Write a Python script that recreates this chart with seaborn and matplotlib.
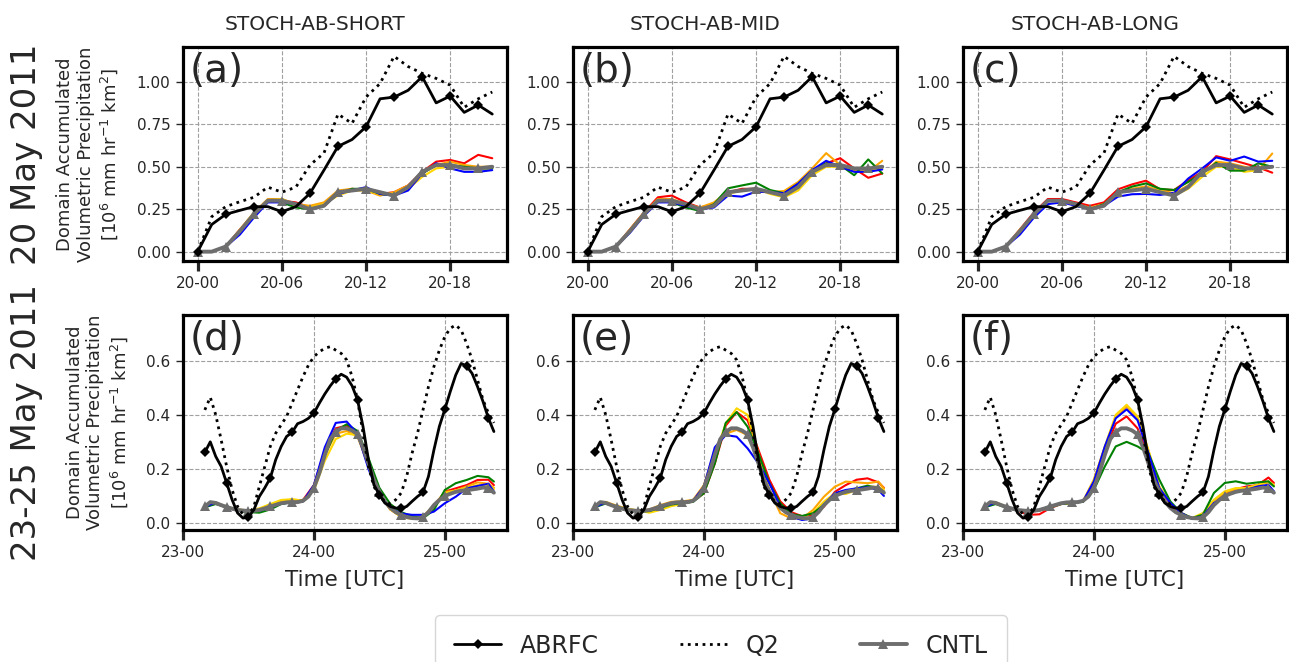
import numpy as np
import pandas as pd
import matplotlib
matplotlib.use("Agg")
import matplotlib.pyplot as plt
import seaborn as sns

sns.set_style("ticks")
plt.rcParams["font.family"] = ["DejaVu Sans"]

# ---------------- Data: 20 May 2011 (hours since 20-00) ----------------
hours_top = list(range(0, 22))
abrfc_top = [0.0, 0.16, 0.22, 0.243, 0.265, 0.265, 0.235, 0.265, 0.343, 0.48, 0.62,
             0.66, 0.735, 0.90, 0.91, 0.95, 1.03, 0.876, 0.916, 0.82, 0.863, 0.81]
q2_top = [0.0, 0.206, 0.265, 0.294, 0.32, 0.38, 0.35, 0.38, 0.51, 0.58, 0.81,
          0.755, 0.91, 0.99, 1.15, 1.09, 1.05, 1.02, 0.98, 0.85, 0.90, 0.94]
cntl_top = [0.00, 0.00, 0.03, 0.12, 0.22, 0.30, 0.30, 0.28, 0.25, 0.27, 0.35,
            0.36, 0.37, 0.35, 0.33, 0.38, 0.47, 0.51, 0.51, 0.49, 0.49, 0.50]

short_red = [0.00, 0.00, 0.03, 0.13, 0.22, 0.30, 0.30, 0.29, 0.26, 0.28, 0.35, 0.37, 0.36, 0.34, 0.35, 0.39, 0.47, 0.53, 0.54, 0.52, 0.57, 0.55]
short_orange = [0.00, 0.00, 0.03, 0.13, 0.23, 0.31, 0.31, 0.28, 0.27, 0.29, 0.36, 0.37, 0.36, 0.33, 0.35, 0.39, 0.46, 0.51, 0.53, 0.51, 0.50, 0.50]
short_yellow = [0.00, 0.00, 0.03, 0.12, 0.21, 0.30, 0.31, 0.27, 0.26, 0.28, 0.33, 0.36, 0.36, 0.34, 0.34, 0.37, 0.44, 0.49, 0.50, 0.50, 0.49, 0.49]
short_green = [0.00, 0.00, 0.03, 0.12, 0.22, 0.30, 0.29, 0.26, 0.25, 0.27, 0.34, 0.37, 0.37, 0.34, 0.33, 0.38, 0.46, 0.51, 0.51, 0.50, 0.49, 0.49]
short_blue = [0.00, 0.00, 0.03, 0.10, 0.20, 0.29, 0.29, 0.28, 0.25, 0.27, 0.34, 0.36, 0.38, 0.34, 0.33, 0.36, 0.46, 0.52, 0.49, 0.47, 0.47, 0.48]

mid_red = [0.00, 0.00, 0.03, 0.13, 0.23, 0.32, 0.33, 0.29, 0.26, 0.28, 0.35, 0.37, 0.37, 0.35, 0.34, 0.40, 0.48, 0.52, 0.55, 0.49, 0.435, 0.46]
mid_orange = [0.00, 0.00, 0.03, 0.13, 0.23, 0.31, 0.31, 0.28, 0.26, 0.29, 0.355, 0.36, 0.37, 0.35, 0.357, 0.41, 0.49, 0.58, 0.51, 0.48, 0.47, 0.535]
mid_yellow = [0.00, 0.00, 0.03, 0.12, 0.22, 0.30, 0.30, 0.27, 0.25, 0.27, 0.34, 0.36, 0.37, 0.34, 0.32, 0.36, 0.45, 0.50, 0.50, 0.49, 0.48, 0.49]
mid_green = [0.00, 0.00, 0.03, 0.12, 0.22, 0.30, 0.29, 0.26, 0.24, 0.28, 0.373, 0.39, 0.406, 0.363, 0.344, 0.40, 0.477, 0.52, 0.51, 0.45, 0.543, 0.46]
mid_blue = [0.00, 0.00, 0.03, 0.11, 0.21, 0.29, 0.29, 0.27, 0.25, 0.26, 0.33, 0.324, 0.353, 0.35, 0.344, 0.40, 0.48, 0.535, 0.50, 0.47, 0.47, 0.484]

long_red = [0.00, 0.00, 0.03, 0.13, 0.23, 0.31, 0.31, 0.29, 0.27, 0.29, 0.367, 0.396, 0.418, 0.367, 0.363, 0.42, 0.47, 0.5625, 0.543, 0.52, 0.496, 0.465]
long_orange = [0.00, 0.00, 0.03, 0.13, 0.22, 0.30, 0.30, 0.28, 0.26, 0.28, 0.35, 0.37, 0.385, 0.36, 0.345, 0.39, 0.455, 0.53, 0.52, 0.50, 0.48, 0.578]
long_yellow = [0.00, 0.00, 0.03, 0.12, 0.21, 0.30, 0.30, 0.27, 0.25, 0.27, 0.35, 0.36, 0.37, 0.36, 0.33, 0.37, 0.44, 0.50, 0.50, 0.47, 0.48, 0.50]
long_green = [0.00, 0.00, 0.03, 0.12, 0.22, 0.30, 0.30, 0.27, 0.25, 0.28, 0.35, 0.383, 0.402, 0.37, 0.363, 0.41, 0.46, 0.523, 0.477, 0.477, 0.52, 0.50]
long_blue = [0.00, 0.00, 0.03, 0.10, 0.20, 0.28, 0.29, 0.27, 0.25, 0.27, 0.324, 0.338, 0.34, 0.334, 0.346, 0.43, 0.49, 0.555, 0.535, 0.56, 0.53, 0.535]

# ---------------- Data: 23-25 May 2011 (hours since 23-00) ----------------
hours_bot = list(range(4, 58))
abrfc_bot = [0.261, 0.30, 0.246, 0.209, 0.148, 0.086, 0.037, 0.018, 0.022, 0.049, 0.098, 0.13,
             0.166, 0.234, 0.283, 0.32, 0.335, 0.367, 0.375, 0.387, 0.406, 0.443, 0.477, 0.507,
             0.533, 0.55, 0.539, 0.507, 0.455, 0.357, 0.234, 0.141, 0.105, 0.074, 0.061, 0.055,
             0.055, 0.061, 0.08, 0.098, 0.113, 0.172, 0.27, 0.357, 0.42, 0.486, 0.547, 0.59,
             0.58, 0.553, 0.504, 0.449, 0.387, 0.338]
q2_bot = [0.418, 0.465, 0.40, 0.307, 0.209, 0.123, 0.061, 0.031, 0.027, 0.061, 0.135, 0.209,
          0.283, 0.332, 0.363, 0.394, 0.443, 0.492, 0.541, 0.584, 0.615, 0.633, 0.646, 0.652,
          0.639, 0.627, 0.603, 0.541, 0.455, 0.332, 0.209, 0.135, 0.098, 0.08, 0.071, 0.086,
          0.111, 0.172, 0.258, 0.332, 0.418, 0.504, 0.578, 0.639, 0.689, 0.72, 0.732, 0.713,
          0.664, 0.603, 0.529, 0.455, 0.406, 0.37]
cntl_bot = [0.061, 0.077, 0.074, 0.066, 0.059, 0.053, 0.048, 0.046, 0.044, 0.045, 0.048, 0.054,
            0.061, 0.067, 0.073, 0.076, 0.077, 0.077, 0.082, 0.098, 0.13, 0.185, 0.252, 0.31,
            0.337, 0.35, 0.35, 0.342, 0.328, 0.28, 0.22, 0.16, 0.115, 0.08, 0.056, 0.04,
            0.03, 0.022, 0.018, 0.017, 0.021, 0.04, 0.066, 0.085, 0.10, 0.108, 0.115, 0.119,
            0.121, 0.124, 0.127, 0.131, 0.128, 0.112]

hours_mem = [4, 6, 8, 10, 12, 14, 16, 18, 20, 22, 24, 26, 28, 30, 32, 34, 36, 38, 40, 42, 44, 46, 48, 50, 52, 54, 56, 57]
d_red = [0.060, 0.072, 0.057, 0.046, 0.043, 0.047, 0.062, 0.075, 0.080, 0.085, 0.14, 0.27, 0.35, 0.36, 0.33, 0.21, 0.11, 0.05, 0.025, 0.018, 0.022, 0.06, 0.116, 0.128, 0.14, 0.159, 0.16, 0.14]
d_orange = [0.060, 0.076, 0.060, 0.050, 0.045, 0.052, 0.068, 0.082, 0.086, 0.084, 0.13, 0.25, 0.33, 0.34, 0.32, 0.21, 0.11, 0.05, 0.025, 0.018, 0.024, 0.065, 0.115, 0.12, 0.135, 0.15, 0.145, 0.13]
d_yellow = [0.060, 0.074, 0.058, 0.050, 0.046, 0.054, 0.070, 0.085, 0.088, 0.082, 0.12, 0.23, 0.31, 0.33, 0.325, 0.22, 0.11, 0.05, 0.022, 0.015, 0.020, 0.06, 0.11, 0.12, 0.13, 0.14, 0.14, 0.125]
d_green = [0.058, 0.070, 0.058, 0.046, 0.040, 0.038, 0.050, 0.070, 0.077, 0.080, 0.13, 0.25, 0.34, 0.365, 0.34, 0.24, 0.13, 0.07, 0.04, 0.025, 0.017, 0.048, 0.122, 0.147, 0.159, 0.174, 0.169, 0.153]
d_blue = [0.060, 0.075, 0.058, 0.046, 0.043, 0.045, 0.058, 0.072, 0.076, 0.080, 0.14, 0.28, 0.37, 0.375, 0.33, 0.20, 0.10, 0.055, 0.035, 0.030, 0.030, 0.042, 0.073, 0.097, 0.128, 0.137, 0.145, 0.116]

e_red = [0.060, 0.074, 0.058, 0.046, 0.044, 0.046, 0.060, 0.072, 0.075, 0.080, 0.11, 0.22, 0.36, 0.41, 0.38, 0.27, 0.16, 0.08, 0.04, 0.025, 0.03, 0.06, 0.115, 0.14, 0.16, 0.165, 0.15, 0.13]
e_orange = [0.062, 0.078, 0.064, 0.052, 0.046, 0.050, 0.066, 0.078, 0.080, 0.085, 0.14, 0.27, 0.33, 0.344, 0.325, 0.233, 0.122, 0.036, 0.017, 0.017, 0.048, 0.097, 0.134, 0.153, 0.15, 0.147, 0.153, 0.128]
e_yellow = [0.060, 0.076, 0.062, 0.052, 0.046, 0.038, 0.048, 0.062, 0.070, 0.080, 0.12, 0.25, 0.368, 0.424, 0.40, 0.257, 0.122, 0.054, 0.03, 0.023, 0.038, 0.079, 0.11, 0.107, 0.122, 0.134, 0.134, 0.122]
e_green = [0.058, 0.072, 0.058, 0.046, 0.042, 0.044, 0.056, 0.068, 0.074, 0.078, 0.11, 0.22, 0.37, 0.41, 0.356, 0.257, 0.147, 0.073, 0.033, 0.026, 0.036, 0.067, 0.10, 0.116, 0.128, 0.138, 0.128, 0.116]
e_blue = [0.060, 0.075, 0.060, 0.048, 0.043, 0.046, 0.060, 0.072, 0.076, 0.082, 0.135, 0.28, 0.325, 0.319, 0.276, 0.22, 0.147, 0.06, 0.023, 0.011, 0.017, 0.067, 0.11, 0.122, 0.128, 0.132, 0.122, 0.10]

f_red = [0.060, 0.074, 0.058, 0.046, 0.030, 0.032, 0.055, 0.070, 0.075, 0.080, 0.15, 0.27, 0.367, 0.394, 0.35, 0.246, 0.129, 0.07, 0.035, 0.018, 0.025, 0.07, 0.11, 0.125, 0.135, 0.14, 0.168, 0.148]
f_orange = [0.062, 0.076, 0.060, 0.048, 0.043, 0.048, 0.060, 0.070, 0.073, 0.080, 0.16, 0.28, 0.39, 0.43, 0.39, 0.265, 0.132, 0.072, 0.035, 0.017, 0.035, 0.082, 0.112, 0.125, 0.13, 0.14, 0.15, 0.138]
f_yellow = [0.060, 0.076, 0.060, 0.048, 0.043, 0.048, 0.062, 0.072, 0.075, 0.080, 0.16, 0.283, 0.40, 0.437, 0.394, 0.27, 0.135, 0.074, 0.037, 0.018, 0.037, 0.086, 0.117, 0.129, 0.129, 0.141, 0.154, 0.141]
f_green = [0.058, 0.070, 0.056, 0.046, 0.042, 0.046, 0.058, 0.070, 0.074, 0.078, 0.123, 0.209, 0.283, 0.30, 0.283, 0.258, 0.16, 0.08, 0.037, 0.018, 0.031, 0.111, 0.148, 0.154, 0.145, 0.15, 0.154, 0.135]
f_blue = [0.060, 0.075, 0.058, 0.046, 0.043, 0.048, 0.062, 0.072, 0.076, 0.080, 0.154, 0.283, 0.387, 0.42, 0.38, 0.258, 0.129, 0.074, 0.037, 0.015, 0.025, 0.074, 0.098, 0.117, 0.123, 0.135, 0.141, 0.117]

titles = ["STOCH-AB-SHORT", "STOCH-AB-MID", "STOCH-AB-LONG"]
row_labels = ["20 May 2011", "23-25 May 2011"]
letters = ["(a)", "(b)", "(c)", "(d)", "(e)", "(f)"]
top_ticks = [0, 6, 12, 18]
top_ticklabels = ["20-00", "20-06", "20-12", "20-18"]
bot_ticks = [0, 24, 48]
bot_ticklabels = ["23-00", "24-00", "25-00"]
top_yticks = [0.0, 0.25, 0.5, 0.75, 1.0]
bot_yticks = [0.0, 0.2, 0.4, 0.6]

member_colors = ["red", "orange", "gold", "green", "blue"]
members_top = [
    [short_red, short_orange, short_yellow, short_green, short_blue],
    [mid_red, mid_orange, mid_yellow, mid_green, mid_blue],
    [long_red, long_orange, long_yellow, long_green, long_blue],
]
members_bot = [
    [d_red, d_orange, d_yellow, d_green, d_blue],
    [e_red, e_orange, e_yellow, e_green, e_blue],
    [f_red, f_orange, f_yellow, f_green, f_blue],
]

# ---------------- Figure ----------------
W, H = 1289, 662
fig = plt.figure(figsize=(W / 100, H / 100), dpi=100)

lefts = [183, 573, 963]
axw = 324
rows = [(47, 261), (315, 530)]


def add_ax(left, top, bottom):
    return fig.add_axes([left / W, 1 - bottom / H, axw / W, (bottom - top) / H])


def style_ax(ax):
    for sp in ax.spines.values():
        sp.set_linewidth(2.3)
        sp.set_color("black")
        sp.set_visible(True)
    ax.grid(True, linestyle="--", color="#a0a0a0", linewidth=0.8)
    ax.set_axisbelow(True)
    ax.tick_params(axis="x", length=7, width=2.3, labelsize=11, pad=4)
    ax.tick_params(axis="y", length=5, width=1.0, labelsize=11, pad=4)


ylabel_text = "Domain Accumulated\nVolumetric Precipitation\n[10$^6$ mm hr$^{-1}$ km$^2$]"

axes = []
for r in range(2):
    for c in range(3):
        top, bottom = rows[r]
        ax = add_ax(lefts[c], top, bottom)
        axes.append(ax)
        if r == 0:
            x, ab, q2, cn = hours_top, abrfc_top, q2_top, cntl_top
            mx = hours_top
            mems = members_top[c]
            mev = 2
        else:
            x, ab, q2, cn = hours_bot, abrfc_bot, q2_bot, cntl_bot
            mx = hours_mem
            mems = members_bot[c]
            mev = 4
        for col, m in zip(member_colors, mems):
            sns.lineplot(x=mx, y=m, ax=ax, color=col, linewidth=1.5, estimator=None)
        sns.lineplot(x=x, y=cn, ax=ax, color="#6e6e6e", linewidth=2.8, marker="^",
                     markersize=7, markevery=mev, markeredgewidth=0, estimator=None, label="CNTL")
        sns.lineplot(x=x, y=ab, ax=ax, color="black", linewidth=2.0, marker="D",
                     markersize=5, markevery=mev, markeredgewidth=0, estimator=None, label="ABRFC")
        sns.lineplot(x=x, y=q2, ax=ax, color="black", linewidth=2.0, linestyle=":",
                     estimator=None, label="Q2")
        if ax.get_legend() is not None:
            ax.get_legend().remove()
        style_ax(ax)
        if r == 0:
            ax.set_xlim(-1.05, 22.05)
            ax.set_ylim(-0.055, 1.205)
            ax.set_xticks(top_ticks)
            ax.set_xticklabels(top_ticklabels)
            ax.set_yticks(top_yticks)
            ax.set_yticklabels([f"{v:.2f}" for v in top_yticks])
            ax.set_title(titles[c], fontsize=14.5, pad=12, x=0.5 - 30 / axw)
            ax.set_xlabel("")
        else:
            ax.set_xlim(0, 59.4)
            ax.set_ylim(-0.026, 0.769)
            ax.set_xticks(bot_ticks)
            ax.set_xticklabels(bot_ticklabels)
            ax.set_yticks(bot_yticks)
            ax.set_yticklabels([f"{v:.1f}" for v in bot_yticks])
            ax.set_xlabel("Time [UTC]", fontsize=15.5, labelpad=7)
        if c == 0:
            ax.set_ylabel(ylabel_text, fontsize=13, labelpad=12, linespacing=1.2)
        else:
            ax.set_ylabel("")
        ax.text(0.02, 0.975, letters[r * 3 + c], transform=ax.transAxes, ha="left",
                va="top", fontsize=28)

for r, lab in enumerate(row_labels):
    top, bottom = rows[r]
    fig.text(27 / W, 1 - ((top + bottom) / 2) / H, lab, rotation=90, ha="center",
             va="center", fontsize=24.5)

handles, labels = axes[0].get_legend_handles_labels()
order = [labels.index("ABRFC"), labels.index("Q2"), labels.index("CNTL")]
leg = fig.legend([handles[i] for i in order], [labels[i] for i in order],
                 loc="upper center", bbox_to_anchor=(721 / W, 1 - 603 / H), ncol=3,
                 fontsize=17, columnspacing=3.4, handlelength=2.0, frameon=True,
                 fancybox=True, edgecolor="#cccccc", borderpad=0.8)

fig.savefig("out.png", dpi=100)
